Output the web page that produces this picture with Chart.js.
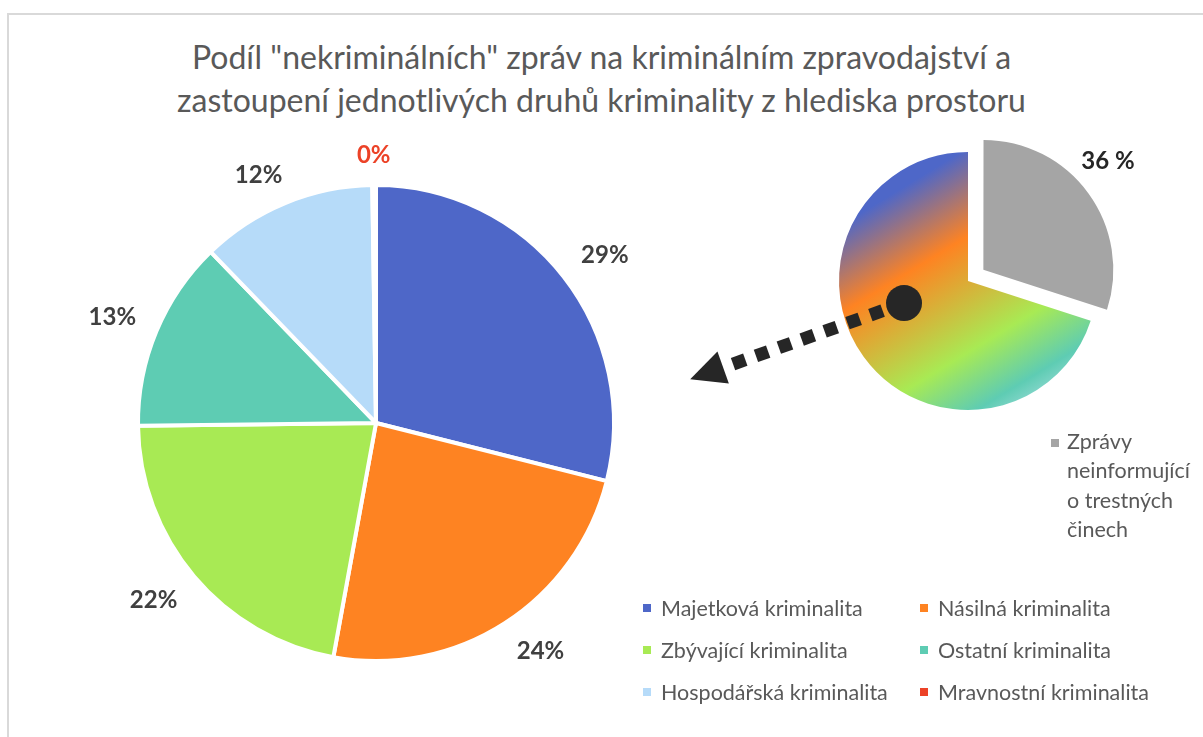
<!DOCTYPE html>
<html>
<head>
<meta charset="utf-8">
<script src="https://cdn.jsdelivr.net/npm/chart.js@4.4.0/dist/chart.umd.min.js"></script>
<style>
  html, body { margin: 0; padding: 0; background: #ffffff; }
  #wrap { position: relative; width: 1203px; height: 737px; overflow: hidden; font-family: Lato, "Open Sans", sans-serif; }
  #frame { position: absolute; left: 7px; top: 13px; width: 1300px; height: 800px; border-left: 2px solid #d9d9d9; border-top: 2px solid #d9d9d9; }
  #title { position: absolute; left: 0; top: 35px; width: 1203px; text-align: center; color: #595959; font-size: 32px; line-height: 43px; }
  canvas { position: absolute; left: 0; top: 0; }
  .lg { position: absolute; color: #595959; font-size: 21.5px; white-space: nowrap; }
  .sq { position: absolute; width: 8px; height: 8px; }
</style>
</head>
<body>
<div id="wrap">
  <div id="frame"></div>
  <div id="title">Podíl "nekriminálních" zpráv na kriminálním zpravodajství a<br>zastoupení jednotlivých druhů kriminality z hlediska prostoru</div>
  <canvas id="big" width="1203" height="737"></canvas>
  <canvas id="small" width="1203" height="737"></canvas>
  <div id="legend"></div>
</div>
<script>
// ---- data ----
const bigLabels = ["Majetková kriminalita", "Násilná kriminalita", "Zbývající kriminalita", "Ostatní kriminalita", "Hospodářská kriminalita", "Mravnostní kriminalita"];
const bigValues = [29, 24, 22, 13, 12, 0.25];
const bigColors = ["#4E67C8", "#FE8322", "#A8EA54", "#5ECCB3", "#B6DBF9", "#EC4227"];
const bigLabelColors = ["#404040", "#404040", "#404040", "#404040", "#404040", "#EC4227"];

const smallLabels = ["Zprávy neinformující o trestných činech", "Kriminální zprávy"];
const smallValues = [30, 70];
const smallValueLabels = ["36 %", ""];
const smallGray = "#A5A5A5";

// ---- helpers ----
function clampS(v) { return Math.max(-1, Math.min(1, v * 2)); }

function makeLabelPlugin(id, texts, colors, gap, angleShift) {
  return {
    id: id,
    afterDatasetsDraw(chart) {
      const ctx = chart.ctx;
      const meta = chart.getDatasetMeta(0);
      ctx.save();
      ctx.font = "bold 24px Lato, 'Open Sans', sans-serif";
      ctx.textAlign = "center";
      ctx.textBaseline = "middle";
      meta.data.forEach((el, i) => {
        const t = texts(i);
        if (!t) return;
        const mid = (el.startAngle + el.endAngle) / 2;
        const off = (el.options.offset || 0) / 4;
        const cx = el.x + Math.cos(mid) * off;
        const cy = el.y + Math.sin(mid) * off;
        const a = mid + angleShift;
        const dx = Math.cos(a), dy = Math.sin(a);
        const w = ctx.measureText(t).width;
        const h = 17;
        const d = el.outerRadius + gap;
        const x = cx + dx * d + clampS(dx) * w / 2;
        const y = cy + dy * d + clampS(dy) * h / 2;
        ctx.fillStyle = colors(i);
        ctx.fillText(t, x, y + 1);
      });
      ctx.restore();
    }
  };
}

// ---- big pie ----
const bigChart = new Chart(document.getElementById("big"), {
  type: "pie",
  data: {
    labels: bigLabels,
    datasets: [{
      data: bigValues,
      backgroundColor: bigColors,
      borderColor: "#ffffff",
      borderWidth: 4,
      radius: 238,
      hoverOffset: 0
    }]
  },
  options: {
    responsive: false,
    animation: false,
    events: [],
    layout: { padding: { left: 140, right: 591, top: 187, bottom: 78 } },
    plugins: { legend: { display: false }, tooltip: { enabled: false }, title: { display: false } }
  },
  plugins: [makeLabelPlugin("bigLabels", i => Math.round(bigValues[i]) + "%", i => bigLabelColors[i], 22, 0)]
});

// ---- small pie ----
function smallGradient(chart) {
  const a = chart.chartArea;
  if (!a) return "#FE8322";
  const cx = (a.left + a.right) / 2, cy = (a.top + a.bottom) / 2, r = 129;
  const g = chart.ctx.createLinearGradient(cx - 0.605 * r, cy - 0.86 * r, cx + 0.48 * r, cy + 0.92 * r);
  g.addColorStop(0, "#4E67C8");
  g.addColorStop(0.08, "#4E67C8");
  g.addColorStop(0.36, "#FE8322");
  g.addColorStop(0.73, "#A8EA54");
  g.addColorStop(0.93, "#5ECCB3");
  g.addColorStop(1, "#86D6CB");
  return g;
}

const arrowPlugin = {
  id: "arrow",
  afterDatasetsDraw(chart) {
    const meta = chart.getDatasetMeta(0);
    const el = meta.data[1];
    const r = el.outerRadius;
    const ctx = chart.ctx;
    const ox = el.x - 0.496 * r, oy = el.y + 0.171 * r;
    const ux = -0.942, uy = 0.336;
    const ang = Math.atan2(uy, ux);
    ctx.save();
    ctx.fillStyle = "#262626";
    for (let k = 0; k < 7; k++) {
      const d = 29.2 + 24.3 * k;
      ctx.save();
      ctx.translate(ox + ux * d, oy + uy * d);
      ctx.rotate(ang);
      ctx.fillRect(-6.5, -6.5, 13, 13);
      ctx.restore();
    }
    const tipD = 227, baseD = 192, hw = 17;
    const px = -uy, py = ux;
    ctx.beginPath();
    ctx.moveTo(ox + ux * tipD, oy + uy * tipD);
    ctx.lineTo(ox + ux * baseD + px * hw, oy + uy * baseD + py * hw);
    ctx.lineTo(ox + ux * baseD - px * hw, oy + uy * baseD - py * hw);
    ctx.closePath();
    ctx.fill();
    ctx.beginPath();
    ctx.arc(ox, oy, 18, 0, Math.PI * 2);
    ctx.fill();
    ctx.restore();
  }
};

const smallChart = new Chart(document.getElementById("small"), {
  type: "pie",
  data: {
    labels: smallLabels,
    datasets: [{
      data: smallValues,
      backgroundColor: c => c.dataIndex === 0 ? smallGray : smallGradient(c.chart),
      borderWidth: 0,
      offset: [76, 0],
      radius: 129,
      hoverOffset: 0
    }]
  },
  options: {
    responsive: false,
    animation: false,
    events: [],
    layout: { padding: { left: 818, right: 85, top: 131, bottom: 306 } },
    plugins: { legend: { display: false }, tooltip: { enabled: false }, title: { display: false } }
  },
  plugins: [arrowPlugin, makeLabelPlugin("smallLabels", i => smallValueLabels[i], i => "#262626", 12, -10 * Math.PI / 180)]
});

// ---- HTML legends ----
const legend = document.getElementById("legend");
const colX = [643, 920];
const rowY = [608, 650, 692];
bigLabels.forEach((lab, i) => {
  const col = i % 2, row = Math.floor(i / 2);
  const sq = document.createElement("div");
  sq.className = "sq";
  sq.style.left = colX[col] + "px";
  sq.style.top = (rowY[row] - 4) + "px";
  sq.style.background = bigColors[i];
  legend.appendChild(sq);
  const t = document.createElement("div");
  t.className = "lg";
  t.style.left = (colX[col] + 18) + "px";
  t.style.top = (rowY[row] - 14) + "px";
  t.style.lineHeight = "28px";
  t.textContent = lab;
  legend.appendChild(t);
});
// small pie legend (gray slice only)
const sq2 = document.createElement("div");
sq2.className = "sq";
sq2.style.left = "1051px";
sq2.style.top = "439px";
sq2.style.background = smallGray;
legend.appendChild(sq2);
const t2 = document.createElement("div");
t2.className = "lg";
t2.style.left = "1067px";
t2.style.top = "427px";
t2.style.width = "136px";
t2.style.whiteSpace = "normal";
t2.style.lineHeight = "29.3px";
t2.textContent = smallLabels[0];
legend.appendChild(t2);
</script>
</body>
</html>
